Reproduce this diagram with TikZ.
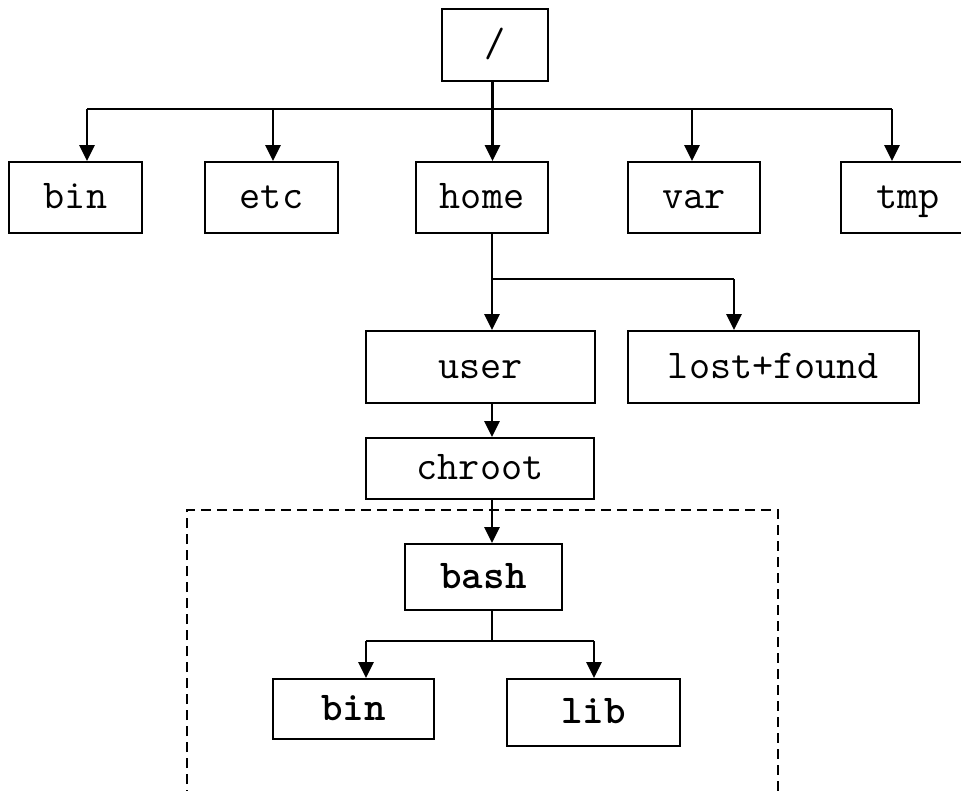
\documentclass[tikz,border=0pt]{standalone}
\usepackage{fontspec}
\usetikzlibrary{arrows.meta,calc}
\begin{document}
\begin{tikzpicture}[x=1pt,y=-1pt,
  box/.style={draw,line width=1.8pt,rectangle,inner sep=0pt,text height=26pt,text depth=4pt,font=\fontsize{41}{44}\selectfont\ttfamily},
  bbox/.style={box,font=\fontsize{41}{44}\selectfont\ttfamily\bfseries},
  conn/.style={line width=2.6pt},
  arr/.style={line width=2.6pt,-{Triangle[length=16pt,width=15pt]}},
  thin/.style={line width=1.6pt}]
\useasboundingbox (0,0) rectangle (961,790);
\clip (0,0) rectangle (961,790);
% nodes
\node[box,minimum width=106pt,minimum height=72pt] (root) at (495,45) {/};
\node[box,minimum width=133pt,minimum height=71pt] (bin) at (75.5,197.5) {bin};
\node[box,minimum width=133pt,minimum height=71pt] (etc) at (271.5,197.5) {etc};
\node[box,minimum width=132pt,minimum height=71pt] (home) at (482,197.5) {home};
\node[box,minimum width=132pt,minimum height=71pt] (var) at (694,197.5) {var};
\node[box,minimum width=134pt,minimum height=71pt] (tmp) at (908,197.5) {tmp};
\node[box,minimum width=229pt,minimum height=72pt] (user) at (480.5,367) {user};
\node[box,minimum width=291pt,minimum height=72pt] (lost) at (773.5,367) {lost+found};
\node[box,minimum width=228pt,minimum height=61pt] (chroot) at (480,468.5) {chroot};
\node[bbox,minimum width=157pt,minimum height=66pt] (bash) at (483.5,577) {bash};
\node[bbox,minimum width=161pt,minimum height=60pt] (bin2) at (353.5,709) {bin};
\node[bbox,minimum width=173pt,minimum height=67pt] (lib) at (593.5,712.5) {lib};
% dashed frame
\coordinate (f1) at (187,800);
\coordinate (f2) at (187,510);
\coordinate (f3) at (778,510);
\coordinate (f4) at (778,800);
\draw[line width=2.8pt,dash pattern=on 10pt off 6pt] (f1) -- (f2) -- (f3) -- (f4);
% top level bus
\coordinate (b1) at (87,109);
\coordinate (b2) at (273,109);
\coordinate (b4) at (692,109);
\coordinate (b5) at (892,109);
\draw[conn] (b1) -- (b5);
\draw[arr] (b1) -- (b1 |- bin.north);
\draw[arr] (b2) -- (b2 |- etc.north);
\draw[arr] (b4) -- (b4 |- var.north);
\draw[arr] (b5) -- (b5 |- tmp.north);
\coordinate (r0) at (492.5,81);
\draw[arr] (r0) -- (r0 |- home.north);
% home branch
\coordinate (h1) at (492,233);
\coordinate (h2) at (492,279);
\coordinate (h3) at (734,279);
\draw[arr] (h1) -- (h1 |- user.north);
\draw[conn] (h2) -- (h3);
\draw[arr] (h3) -- (h3 |- lost.north);
% user -> chroot -> bash
\coordinate (u1) at (492,403);
\draw[arr] (u1) -- (u1 |- chroot.north);
\coordinate (c1) at (492,499);
\draw[arr] (c1) -- (c1 |- bash.north);
% bash branch
\coordinate (s1) at (492,610);
\coordinate (s2) at (492,641);
\coordinate (s3) at (366,641);
\coordinate (s4) at (594,641);
\draw[thin] (s1) -- (s2);
\draw[conn] (s3) -- (s4);
\draw[arr] (s3) -- (s3 |- bin2.north);
\draw[arr] (s4) -- (s4 |- lib.north);
\end{tikzpicture}
\end{document}
